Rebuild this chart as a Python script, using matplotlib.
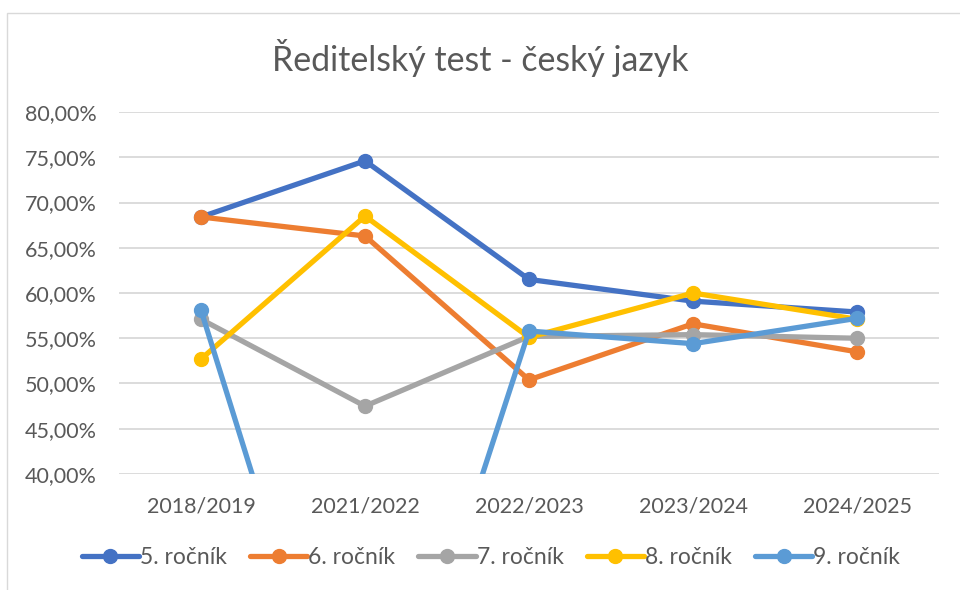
import matplotlib

matplotlib.use("Agg")

import matplotlib.pyplot as plt
from matplotlib.patches import Rectangle
from matplotlib.ticker import FuncFormatter, MultipleLocator

TEXT_COLOR = "#595959"
GRID_COLOR = "#D9D9D9"

years = ["2018/2019", "2021/2022", "2022/2023", "2023/2024", "2024/2025"]
series_names = ["5. ročník", "6. ročník", "7. ročník", "8. ročník", "9. ročník"]
rocnik_5 = [68.4, 74.6, 61.5, 59.1, 57.9]
rocnik_6 = [68.4, 66.3, 50.4, 56.6, 53.5]
rocnik_7 = [57.1, 47.5, 55.2, 55.4, 55.0]
rocnik_8 = [52.7, 68.5, 55.1, 60.0, 57.1]
rocnik_9 = [58.1, 0.0, 55.8, 54.4, 57.2]
colors = ["#4472C4", "#ED7D31", "#A5A5A5", "#FFC000", "#5B9BD5"]

plt.rcParams["font.family"] = ["Lato", "DejaVu Sans"]

fig = plt.figure(figsize=(9.6, 5.9), dpi=100)
fig.patch.set_facecolor("white")
fig.add_artist(Rectangle((7 / 960, -0.1), 1.2, 1.1 - 13 / 590, transform=fig.transFigure,
                         fill=False, edgecolor=GRID_COLOR, linewidth=1.0))

ax = fig.add_axes([119 / 960, 1 - 474 / 590, 820 / 960, 362 / 590])
x = list(range(len(years)))
for name, values, color in zip(series_names,
                               [rocnik_5, rocnik_6, rocnik_7, rocnik_8, rocnik_9], colors):
    ax.plot(x, values, color=color, linewidth=3.8, marker="o", markersize=10,
            solid_capstyle="round", label=name)

ax.set_xlim(-0.5, len(years) - 0.5)
ax.set_ylim(40, 80)
ax.yaxis.set_major_locator(MultipleLocator(5))
ax.yaxis.set_major_formatter(FuncFormatter(lambda v, _: f"{v:.2f}".replace(".", ",") + "%"))
ax.set_xticks(x)
ax.set_xticklabels(years)
ax.grid(axis="y", color=GRID_COLOR, linewidth=1.3)
ax.set_axisbelow(True)
for spine in ax.spines.values():
    spine.set_visible(False)
ax.tick_params(axis="both", length=0, labelsize=15.5, colors=TEXT_COLOR)
ax.tick_params(axis="y", pad=16)
ax.tick_params(axis="x", pad=16)

fig.text(0.5, 1 - 58 / 590, "Ředitelský test - český jazyk", ha="center", va="center",
         fontsize=24.4, color=TEXT_COLOR)

ax.legend(loc="center", bbox_to_anchor=(491 / 960, 1 - 558 / 590), bbox_transform=fig.transFigure,
          ncol=5, frameon=False, fontsize=16.5, labelcolor=TEXT_COLOR, handlelength=2.5,
          handletextpad=0.05, columnspacing=1.0, markerscale=1.0)

fig.savefig("out.png", dpi=100, facecolor="white")
